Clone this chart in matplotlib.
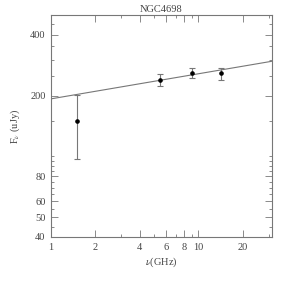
import numpy as np
import matplotlib
matplotlib.use("Agg")
import matplotlib.pyplot as plt
from matplotlib.ticker import FixedLocator, FixedFormatter, NullFormatter

# data
nu_ghz = [1.5, 5.5, 9.0, 14.2]
flux = [150, 239, 259, 258]
err_lo = [53, 17, 16, 18]
err_hi = [52, 16, 15, 16]

# power-law fit shown as grey line
fit_amp = 192.6
fit_index = 0.124

x_major = [1, 2, 4, 6, 8, 10, 20]
x_minor = [3, 5, 7, 9, 30]
y_major = [40, 50, 60, 80, 200, 400]
y_minor = [45, 55, 65, 70, 75, 85, 90, 95, 100, 150, 250, 300, 350, 450]

plt.rcParams['font.family'] = ['Liberation Serif', 'DejaVu Serif']
plt.rcParams['mathtext.fontset'] = 'stix'
grey = '#777777'
txt = '#444444'

fig = plt.figure(figsize=(2.97, 2.82), dpi=100)
ax = fig.add_axes([0.1717, 0.1596, 0.7441, 0.7872])

xx = np.logspace(0, np.log10(31.5), 50)
ax.plot(xx, fit_amp * xx ** fit_index, color=grey, lw=0.8)

ax.errorbar(nu_ghz, flux, yerr=[err_lo, err_hi], fmt='o', color='black',
            ms=2.3, ecolor=grey, elinewidth=0.8, capsize=2, capthick=0.8)

ax.set_xscale('log')
ax.set_yscale('log')
ax.set_xlim(1, 31.5)
ax.set_ylim(40, 500)

ax.xaxis.set_major_locator(FixedLocator(x_major))
ax.xaxis.set_major_formatter(FixedFormatter([str(v) for v in x_major]))
ax.xaxis.set_minor_locator(FixedLocator(x_minor))
ax.xaxis.set_minor_formatter(NullFormatter())
ax.yaxis.set_major_locator(FixedLocator(y_major))
ax.yaxis.set_major_formatter(FixedFormatter([str(v) for v in y_major]))
ax.yaxis.set_minor_locator(FixedLocator(y_minor))
ax.yaxis.set_minor_formatter(NullFormatter())

ax.tick_params(which='both', direction='in', top=True, right=True,
               color=grey, width=0.6, labelsize=7.5, labelcolor=txt)
ax.tick_params(which='major', length=5, pad=4)
ax.tick_params(which='minor', length=2.5)
for s in ax.spines.values():
    s.set_color(grey)
    s.set_linewidth(0.8)

ax.set_title('NGC4698', fontsize=7.5, color=txt, pad=2)
ax.set_xlabel(r'$\nu$(GHz)', fontsize=7.5, color=txt, labelpad=3)
ax.set_ylabel(r'F$_\nu$ (uJy)', fontsize=7.5, color=txt, labelpad=6)

fig.savefig('out.png', dpi=100)
